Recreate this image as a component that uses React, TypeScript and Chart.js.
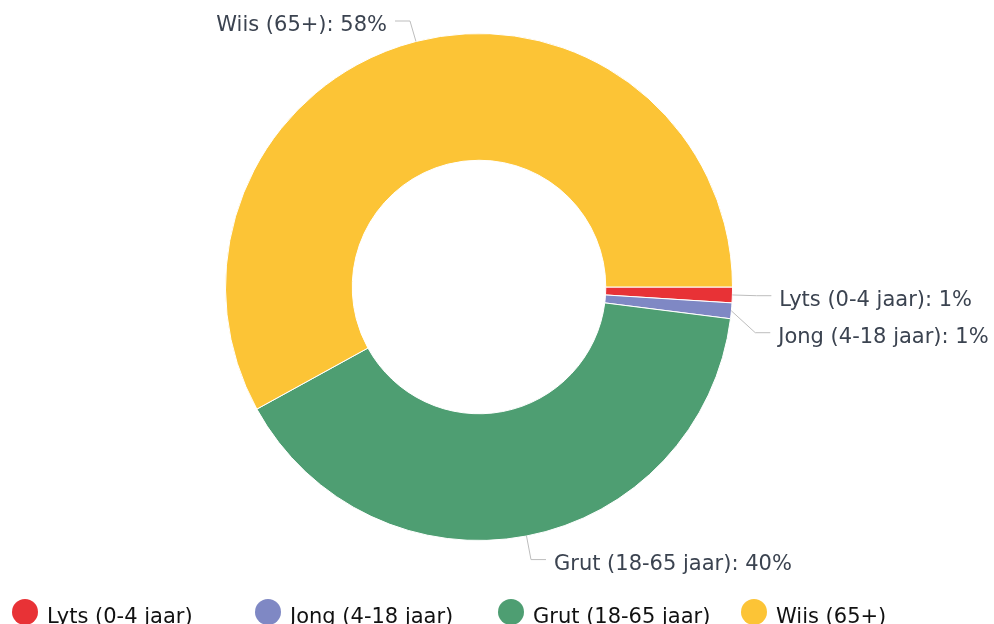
import React, { useEffect, useRef } from "react";
import { Chart, registerables } from "chart.js";

Chart.register(...registerables);

const categories = ["Lyts (0-4 jaar)", "Jong (4-18 jaar)", "Grut (18-65 jaar)", "Wiis (65+)"];
const values = [1, 1, 40, 58];
const colors = ["#e83236", "#7f88c4", "#4e9e72", "#fcc436"];

const FONT = "'DejaVu Sans', sans-serif";

const labelPlugin = {
  id: "sliceLabels",
  afterDatasetsDraw(chart: any) {
    const ctx = chart.ctx;
    const meta = chart.getDatasetMeta(0);
    const total = values.reduce((a, b) => a + b, 0);
    const items: any[] = [];
    meta.data.forEach((arc: any, i: number) => {
      const mid = (arc.startAngle + arc.endAngle) / 2;
      const r = arc.outerRadius;
      const ax = arc.x + Math.cos(mid) * r;
      const ay = arc.y + Math.sin(mid) * r;
      const ex = arc.x + Math.cos(mid) * (r + 24);
      let ey = arc.y + Math.sin(mid) * (r + 24);
      const right = Math.cos(mid) >= 0;
      items.push({ i, ax, ay, ex, ey, right });
    });
    [true, false].forEach((side) => {
      const list = items.filter((it) => it.right === side).sort((a, b) => a.ey - b.ey);
      let prev = -Infinity;
      list.forEach((it) => {
        if (it.ey < 21) it.ey = 21;
        if (it.ey < prev + 37) it.ey = prev + 37;
        prev = it.ey;
      });
    });
    ctx.save();
    ctx.font = "21px " + FONT;
    ctx.textBaseline = "middle";
    items.forEach((it) => {
      const dir = it.right ? 1 : -1;
      const hx = it.ex + dir * 15;
      ctx.strokeStyle = "#bdbdbd";
      ctx.lineWidth = 1;
      ctx.beginPath();
      ctx.moveTo(it.ax, it.ay);
      ctx.lineTo(it.ex, it.ey);
      ctx.lineTo(hx, it.ey);
      ctx.stroke();
      const pct = Math.round((values[it.i] / total) * 100);
      const text = categories[it.i] + ": " + pct + "%";
      ctx.fillStyle = "#3b4350";
      ctx.textAlign = it.right ? "left" : "right";
      ctx.fillText(text, hx + dir * 8, it.ey + 5);
    });
    ctx.restore();
  },
};

const legendPlugin = {
  id: "customLegend",
  afterDraw(chart: any) {
    const ctx = chart.ctx;
    const ds = chart.data.datasets[0];
    ctx.save();
    ctx.font = "21px " + FONT;
    ctx.textBaseline = "middle";
    ctx.textAlign = "left";
    const colW = 243;
    const y = 612;
    chart.data.labels.forEach((lab: string, i: number) => {
      const x0 = 12 + i * colW;
      ctx.fillStyle = ds.backgroundColor[i];
      ctx.beginPath();
      ctx.arc(x0 + 13, y, 13, 0, Math.PI * 2);
      ctx.fill();
      ctx.fillStyle = "#111111";
      ctx.fillText(lab, x0 + 35, y + 6);
    });
    ctx.restore();
  },
};

export default function App() {
  const ref = useRef<HTMLCanvasElement | null>(null);
  useEffect(() => {
    if (!ref.current) return;
    const chart = new Chart(ref.current, {
      type: "doughnut",
      data: {
        labels: categories,
        datasets: [
          {
            data: values,
            backgroundColor: colors,
            borderColor: "#ffffff",
            borderWidth: 1,
          },
        ],
      },
      options: {
        animation: false,
        responsive: false,
        rotation: 90,
        cutout: "50%",
        layout: { padding: { left: 225, right: 261, top: 33, bottom: 99 } },
        plugins: {
          legend: { display: false },
          tooltip: { enabled: false },
        },
      },
      plugins: [labelPlugin, legendPlugin],
    });
    return () => chart.destroy();
  }, []);
  return (
    <div style={{ position: "absolute", left: 0, top: 0, width: 994, height: 640 }}>
      <canvas ref={ref} width={994} height={640} style={{ width: 994, height: 640 }} />
    </div>
  );
}
